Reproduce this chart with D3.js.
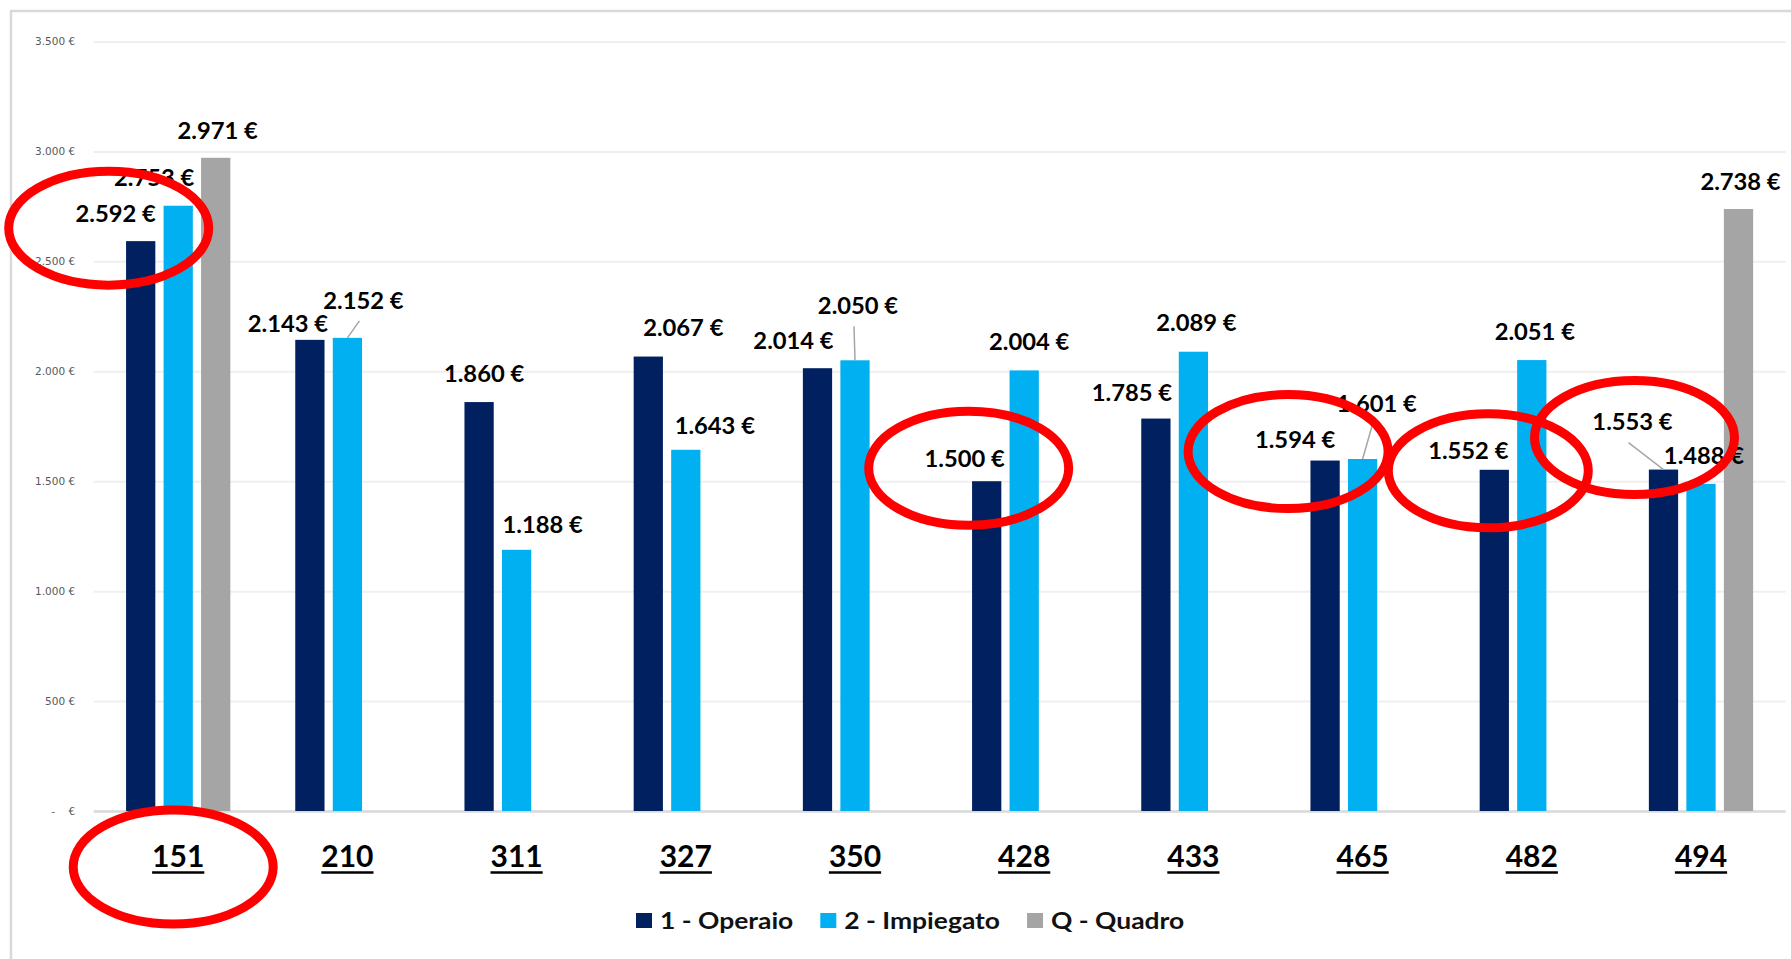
<!DOCTYPE html>
<html>
<head>
<meta charset="utf-8">
<script src="https://cdn.jsdelivr.net/npm/d3@7"></script>
<style>
  html, body { margin: 0; padding: 0; background: #fff; }
  svg { display: block; }
</style>
</head>
<body>
<script>
// data
var categories = ['151', '210', '311', '327', '350', '428', '433', '465', '482', '494'];
var seriesNames = ['1 - Operaio', '2 - Impiegato', 'Q - Quadro'];
var operaio   = [2592, 2143, 1860, 2067, 2014, 1500, 1785, 1594, 1552, 1553];
var impiegato = [2753, 2152, 1188, 1643, 2050, 2004, 2089, 1601, 2051, 1488];
var quadro    = [2971, null, null, null, null, null, null, null, null, 2738];
var yTicks = [0, 500, 1000, 1500, 2000, 2500, 3000, 3500];

var colors = ['#002060', '#00b0f0', '#a5a5a5'];

// label nudges (dx, dy from bar top centre, leader line flag) - labels were dragged by hand
var labelNudge = {
	'151-0': [-25, -27], '151-1': [-24, -28],
	'210-0': [-22, -16], '210-1': [16, -37, true],
	'311-0': [5, -28],   '311-1': [26, -25],
	'327-0': [35, -28],  '327-1': [29, -24],
	'350-0': [-24, -27], '350-1': [3, -54, true],
	'428-0': [-22, -22], '428-1': [5, -28],
	'433-0': [-24, -25], '433-1': [3, -29],
	'465-0': [-30, -20], '465-1': [14, -55, true],
	'482-0': [-26, -19], '482-1': [3, -28],
	'494-0': [-31, -47, true], '494-1': [3, -28]
};
var defaultNudge = [2, -27];

// red circles drawn on top of the chart (offset from the label they circle)
var highlights = [
	{ cat: '151', s: 0, dx: -7, dy: 14 },
	{ cat: '151', s: 'axis', dx: -5, dy: 11 },
	{ cat: '428', s: 0, dx: 4, dy: 9 },
	{ cat: '465', s: 0, dx: -7, dy: 11 },
	{ cat: '482', s: 0, dx: 20, dy: 20 },
	{ cat: '494', s: 0, dx: 2, dy: 15 }
];

var width = 1791,
	height = 959;

var svg = d3.select('body')
	.append('svg')
	.attr('width', width)
	.attr('height', height);

var it = d3.formatLocale({ decimal: ',', thousands: '.', grouping: [3], currency: ['', ' €'] });
var fmt = it.format(',.0f');

// rows
var rows = categories.map(function(c, i) {
	return { cat: c, values: [operaio[i], impiegato[i], quadro[i]] };
});

// outer frame (only top and left are visible)
svg.append('path')
	.attr('d', 'M11,' + height + 'V11H' + width)
	.attr('fill', 'none')
	.attr('stroke', '#d9d9d9')
	.attr('stroke-width', 2.5);

var x0 = d3.scaleBand()
	.domain(categories)
	.range([93.6, 1785.6])
	.paddingInner(0.335)
	.paddingOuter(0.1675);

var x1 = d3.scaleBand()
	.domain([0, 1, 2])
	.range([0, x0.bandwidth()])
	.paddingInner(0.22)
	.paddingOuter(0.11);

var y = d3.scaleLinear()
	.domain([0, 3500])
	.range([811, 41.5]);

var plotLeft = x0.range()[0], plotRight = x0.range()[1];

// y axis with gridlines
var yAxis = svg.append('g')
	.attr('transform', 'translate(' + plotLeft + ',0)')
	.call(d3.axisLeft(y)
		.tickValues(yTicks)
		.tickSize(-(plotRight - plotLeft))
		.tickPadding(18.5)
		.tickFormat(function(d) { return d === 0 ? '-    €' : fmt(d) + ' €'; }));
yAxis.select('.domain').remove();
yAxis.selectAll('.tick line')
	.attr('stroke', function(d) { return d === 0 ? '#d9d9d9' : '#efefef'; })
	.attr('stroke-width', function(d) { return d === 0 ? 2.5 : 2; });
yAxis.selectAll('.tick text')
	.attr('fill', '#595959')
	.style('font-family', '"DejaVu Sans", sans-serif')
	.style('font-size', '10.5px')
	.style('white-space', 'pre');

// bars
var groups = svg.append('g')
	.selectAll('g')
	.data(rows)
	.enter().append('g')
	.attr('transform', function(d) { return 'translate(' + x0(d.cat) + ',0)'; });

groups.selectAll('rect')
	.data(function(d) {
		return d.values.map(function(v, s) { return { cat: d.cat, s: s, v: v }; })
			.filter(function(e) { return e.v != null; });
	})
	.enter().append('rect')
	.attr('x', function(d) { return x1(d.s); })
	.attr('width', x1.bandwidth())
	.attr('y', function(d) { return y(d.v); })
	.attr('height', function(d) { return y(0) - y(d.v); })
	.attr('fill', function(d) { return colors[d.s]; });

// category axis (bold, underlined)
var xAxis = svg.append('g')
	.attr('transform', 'translate(0,' + y(0) + ')')
	.call(d3.axisBottom(x0).tickSize(0));
xAxis.select('.domain').remove();
xAxis.selectAll('.tick text')
	.attr('y', 55.5)
	.attr('dy', 0)
	.attr('fill', '#000')
	.style('font-family', 'Lato, sans-serif')
	.style('font-weight', 'bold')
	.style('font-size', '30px');
xAxis.selectAll('.tick').each(function() {
	var t = d3.select(this).select('text');
	var w = t.node().getComputedTextLength();
	d3.select(this).append('line')
		.attr('x1', -w / 2).attr('x2', w / 2)
		.attr('y1', 61.5).attr('y2', 61.5)
		.attr('stroke', '#000')
		.attr('stroke-width', 2.5);
});

// data labels
var labelSize = 22, labelStretch = 1.08;
var labels = [];
rows.forEach(function(r) {
	r.values.forEach(function(v, s) {
		if (v == null) return;
		var n = labelNudge[r.cat + '-' + s] || defaultNudge;
		var cx = x0(r.cat) + x1(s) + x1.bandwidth() / 2;
		labels.push({ cat: r.cat, s: s, v: v, bx: cx, by: y(v), lx: cx + n[0], ly: y(v) + n[1], leader: !!n[2] });
	});
});

svg.append('g')
	.selectAll('line')
	.data(labels.filter(function(d) { return d.leader; }))
	.enter().append('line')
	.attr('x1', function(d) { return d.bx; })
	.attr('y1', function(d) { return d.by; })
	.attr('x2', function(d) { return d.lx - 4; })
	.attr('y2', function(d) { return d.ly + 20; })
	.attr('stroke', '#a6a6a6')
	.attr('stroke-width', 1.5);

svg.append('g')
	.selectAll('text')
	.data(labels)
	.enter().append('text')
	.attr('transform', function(d) { return 'translate(' + d.lx + ',' + d.ly + ') scale(' + labelStretch + ',1)'; })
	.attr('y', labelSize * 0.36)
	.attr('text-anchor', 'middle')
	.style('font-family', 'Lato, sans-serif')
	.style('font-weight', 'bold')
	.style('font-size', labelSize + 'px')
	.attr('fill', '#000')
	.text(function(d) { return fmt(d.v) + ' €'; });

// legend
var legend = svg.append('g')
	.attr('transform', 'translate(636,920.5)');
var lx = 0;
seriesNames.forEach(function(name, s) {
	var item = legend.append('g').attr('transform', 'translate(' + lx + ',0)');
	item.append('rect')
		.attr('x', 0).attr('y', -7.5)
		.attr('width', 16).attr('height', 15)
		.attr('fill', colors[s]);
	var t = item.append('text')
		.attr('transform', 'translate(24,0) scale(1.15,1)')
		.attr('y', 8.3)
		.style('font-family', 'Lato, sans-serif')
		.style('font-weight', 'bold')
		.style('font-size', '23px')
		.attr('fill', '#111')
		.text(name);
	lx += 24 + t.node().getComputedTextLength() * 1.15 + 27;
});

// red ellipses
svg.append('g')
	.selectAll('ellipse')
	.data(highlights)
	.enter().append('ellipse')
	.attr('cx', function(d) {
		if (d.s === 'axis') return x0(d.cat) + x0.bandwidth() / 2 + d.dx;
		var l = labels.find(function(e) { return e.cat === d.cat && e.s === d.s; });
		return l.lx + d.dx;
	})
	.attr('cy', function(d) {
		if (d.s === 'axis') return y(0) + 45 + d.dy;
		var l = labels.find(function(e) { return e.cat === d.cat && e.s === d.s; });
		return l.ly + d.dy;
	})
	.attr('rx', 100)
	.attr('ry', 57)
	.attr('fill', 'none')
	.attr('stroke', '#ff0000')
	.attr('stroke-width', 9);
</script>
</body>
</html>
